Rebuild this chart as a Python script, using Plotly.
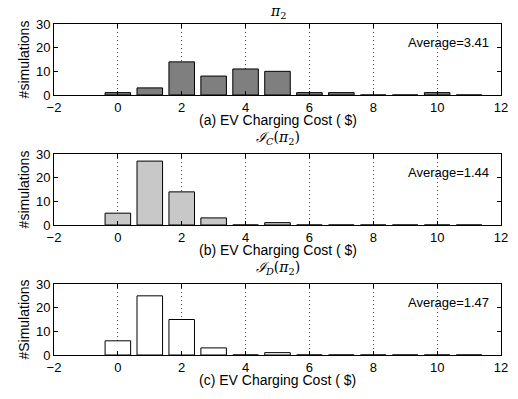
import plotly.graph_objects as go

bins = [0, 1, 2, 3, 4, 5, 6, 7, 8, 9, 10, 11]
counts_a = [1, 3, 14, 8, 11, 10, 1, 1, 0, 0, 1, 0]
counts_b = [5, 27, 14, 3, 0, 1, 0, 0, 0, 0, 0, 0]
counts_c = [6, 25, 15, 3, 0, 1, 0, 0, 0, 0, 0, 0]
averages = ["3.41", "1.44", "1.47"]
titles = ["<i>π</i><sub>2</sub>", "<i>ℐ</i><sub><i>C</i></sub>(<i>π</i><sub>2</sub>)",
          "<i>ℐ</i><sub><i>D</i></sub>(<i>π</i><sub>2</sub>)"]
xlabels = ["(a) EV Charging Cost ( $)", "(b) EV Charging Cost ( $)", "(c) EV Charging Cost ( $)"]
ylabels = ["#simulations", "#simulations", "#Simulations"]
xticks = [-2, 0, 2, 4, 6, 8, 10, 12]
yticks = [0, 10, 20, 30]
colors = ["#7f7f7f", "#c8c8c8", "#ffffff"]

FONT = "Liberation Sans, Arial, Helvetica, sans-serif"
FS = 14
TFS = 13
W, H = 518, 399
mt, mb = 24, 44
ph = H - mt - mb
panels = [(24, 95), (154, 225), (284, 355)]
title_px = [12, 138, 268]
xlabel_px = [120, 250, 380]


def py(px):
    return (H - mb - px) / ph


fig = go.Figure()
layout = dict(
    width=W, height=H, autosize=False,
    margin=dict(l=54, r=17, t=mt, b=mb, autoexpand=False),
    paper_bgcolor="white", plot_bgcolor="white",
    font=dict(family=FONT, size=FS, color="black"),
    showlegend=False,
    bargap=0.2,
)
annotations = []
for i, counts in enumerate([counts_a, counts_b, counts_c]):
    xa = "x" if i == 0 else f"x{i+1}"
    ya = "y" if i == 0 else f"y{i+1}"
    fig.add_trace(go.Bar(x=bins, y=counts, xaxis=xa, yaxis=ya, width=0.8,
                         marker=dict(color=colors[i], line=dict(color="black", width=1))))
    top, bot = panels[i]
    xkey = "xaxis" if i == 0 else f"xaxis{i+1}"
    ykey = "yaxis" if i == 0 else f"yaxis{i+1}"
    layout[xkey] = dict(
        domain=[0, 1], anchor=ya, range=[-2, 12], tickvals=xticks,
        ticktext=[("−2" if v == -2 else str(v)) for v in xticks],
        showgrid=True, gridcolor="#444444", griddash="1px,3px", gridwidth=1,
        showline=True, linecolor="black", linewidth=1, mirror="ticks",
        ticks="inside", ticklen=4, tickcolor="black", zeroline=False,
        tickfont=dict(size=TFS), fixedrange=True, automargin=False,
    )
    layout[ykey] = dict(
        domain=[py(bot), py(top)], anchor=xa, range=[0, 30], tickvals=yticks,
        showgrid=False, showline=True, linecolor="black", linewidth=1, mirror="ticks",
        ticks="inside", ticklen=4, tickcolor="black", zeroline=False,
        title=dict(text=ylabels[i], standoff=3, font=dict(size=FS)),
        tickfont=dict(size=TFS), fixedrange=True, automargin=False,
    )
    annotations.append(dict(text=f"Average={averages[i]}", x=11.7, y=22, xref=xa, yref=ya,
                            xanchor="right", yanchor="middle", showarrow=False,
                            font=dict(size=TFS)))
    annotations.append(dict(text=xlabels[i], x=0.5, y=py(xlabel_px[i]),
                            xref="paper", yref="paper", xanchor="center", yanchor="middle",
                            showarrow=False, font=dict(size=FS)))
    annotations.append(dict(text=titles[i], x=0.5, y=py(title_px[i]),
                            xref="paper", yref="paper", xanchor="center", yanchor="middle",
                            showarrow=False, font=dict(size=14, family="DejaVu Serif, serif")))
layout["annotations"] = annotations
fig.update_layout(**layout)
fig.write_html("out.html", config={"displayModeBar": False},
               post_script="document.body.style.margin='0';document.body.style.overflow='hidden';")
